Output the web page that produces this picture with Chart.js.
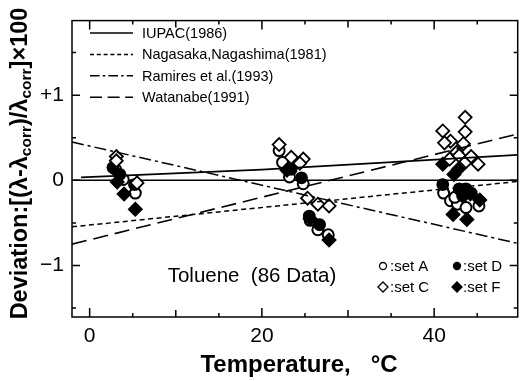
<!DOCTYPE html>
<html>
<head>
<meta charset="utf-8">
<script src="https://cdn.jsdelivr.net/npm/chart.js@4.4.1/dist/chart.umd.min.js"></script>
<style>
    html, body { margin: 0; padding: 0; background: #fff; overflow: hidden; }
    canvas { display: block; }
</style>
</head>
<body>
<canvas id="graficoDesviacion" width="526" height="381"></canvas>
<script>
// Datos (Tolueno, 86 datos)
const setA_T   = [3.0, 3.9, 5.3, 22.0, 22.4, 23.2, 24.8, 25.6, 26.5, 27.7, 41.1, 41.9, 42.7, 43.7, 45.2, 42.4];
const setA_dev = [0.13, 0.01, -0.15, 0.35, 0.21, 0.04, -0.04, -0.47, -0.58, -0.64, -0.15, -0.24, -0.28, -0.32, -0.30, -0.20];

const setC_T   = [3.1, 3.1, 5.5, 22.0, 23.4, 24.8, 24.4, 25.3, 26.5, 27.8, 41.0, 43.6, 43.6, 41.9, 41.2, 43.4, 42.6, 41.8, 42.9, 43.7, 45.1, 44.3];
const setC_dev = [0.28, 0.23, -0.03, 0.42, 0.27, 0.25, 0.20, -0.21, -0.28, -0.30, 0.58, 0.74, 0.57, 0.46, 0.44, 0.43, 0.33, 0.25, 0.29, 0.22, 0.19, 0.28];

const setD_T   = [2.7, 3.5, 5.2, 23.4, 24.6, 25.5, 26.7, 41.0, 42.9, 43.7, 43.3, 44.3];
const setD_dev = [0.15, 0.07, -0.05, 0.13, 0.03, -0.42, -0.52, -0.05, -0.10, -0.10, -0.18, -0.15];

const setF_T   = [3.2, 4.0, 5.3, 22.9, 25.6, 27.8, 41.0, 42.3, 42.8, 42.2, 43.8, 45.3, 44.2, 43.4];
const setF_dev = [-0.02, -0.16, -0.34, 0.12, -0.45, -0.70, 0.19, 0.07, 0.13, -0.40, -0.46, -0.23, -0.16, -0.12];

// Correlaciones (extremos de cada recta)
const iupacT = [-1.0, 20, 49.7];
const iupacDev = [0.035, 0.125, 0.30];
const bordeT = [-2.05, 49.7];
const nagasakaDev = [-0.546, -0.013];
const ramiresDev = [0.45, -0.74];
const watanabeDev = [-0.75, 0.545];

const xTicks = [0, 20, 40];
const yTicks = [-1, 0, 1];
const yTickLabels = ['\u22121', '0', '+1'];

const fuente = '"Liberation Sans", Arial, sans-serif';

function pares(xs, ys) {
    return xs.map((x, i) => ({ x: x, y: ys[i] }));
}

const lineasModelo = [
    { label: 'IUPAC(1986)', data: pares(iupacT, iupacDev), dash: [], ancho: 1.8 },
    { label: 'Nagasaka,Nagashima(1981)', data: pares(bordeT, nagasakaDev), dash: [5, 3.5], ancho: 1.5 },
    { label: 'Ramires et al.(1993)', data: pares(bordeT, ramiresDev), dash: [12, 4, 3, 4], ancho: 1.5 },
    { label: 'Watanabe(1991)', data: pares(bordeT, watanabeDev), dash: [15, 7], ancho: 1.6 }
];

const datasets = lineasModelo.map(l => ({
    label: l.label,
    data: l.data,
    showLine: true,
    borderColor: '#000',
    borderWidth: l.ancho,
    borderDash: l.dash,
    pointRadius: 0,
    fill: false
}));

datasets.push(
    { label: 'set C', data: pares(setC_T, setC_dev), pointStyle: 'rectRot', pointRadius: 6.5,
      backgroundColor: '#fff', borderColor: '#000', borderWidth: 1.8 },
    { label: 'set F', data: pares(setF_T, setF_dev), pointStyle: 'rectRot', pointRadius: 6.5,
      backgroundColor: '#000', borderColor: '#000', borderWidth: 1.8 },
    { label: 'set D', data: pares(setD_T, setD_dev), pointStyle: 'circle', pointRadius: 5.5,
      backgroundColor: '#000', borderColor: '#000', borderWidth: 1.8 },
    { label: 'set A', data: pares(setA_T, setA_dev), pointStyle: 'circle', pointRadius: 5.5,
      backgroundColor: '#fff', borderColor: '#000', borderWidth: 2 }
);

function marcador(ctx, tipo, x, y, r, relleno) {
    ctx.beginPath();
    if (tipo === 'circle') {
        ctx.arc(x, y, r, 0, Math.PI * 2);
    } else {
        ctx.moveTo(x - r, y);
        ctx.lineTo(x, y - r);
        ctx.lineTo(x + r, y);
        ctx.lineTo(x, y + r);
        ctx.closePath();
    }
    ctx.fillStyle = relleno ? '#000' : '#fff';
    ctx.fill();
    ctx.lineWidth = 1.3;
    ctx.strokeStyle = '#000';
    ctx.stroke();
}

const marcoPlugin = {
    id: 'marco',
    beforeDatasetsDraw(chart) {
        // línea de desviación cero
        const { ctx, chartArea, scales } = chart;
        const y0 = scales.y.getPixelForValue(0);
        ctx.save();
        ctx.strokeStyle = '#000';
        ctx.lineWidth = 1.5;
        ctx.beginPath();
        ctx.moveTo(chartArea.left, y0);
        ctx.lineTo(chartArea.right, y0);
        ctx.stroke();
        ctx.restore();
    },
    afterDraw(chart) {
        const { ctx, chartArea, scales } = chart;
        const { left, right, top, bottom } = chartArea;
        ctx.save();
        ctx.strokeStyle = '#000';
        ctx.fillStyle = '#000';
        ctx.lineWidth = 1.5;
        ctx.strokeRect(left, top, right - left, bottom - top);

        // marcas hacia adentro
        ctx.beginPath();
        for (let v = 0; v <= 45; v += 5) {
            const px = scales.x.getPixelForValue(v);
            const largo = v % 20 === 0 ? 9 : (v % 10 === 0 ? 7 : 4);
            ctx.moveTo(px, bottom); ctx.lineTo(px, bottom - largo);
            ctx.moveTo(px, top); ctx.lineTo(px, top + largo);
        }
        for (let v = -1.5; v <= 1.5; v += 0.5) {
            const py = scales.y.getPixelForValue(v);
            const largo = Number.isInteger(v) ? 8 : 4;
            ctx.moveTo(left, py); ctx.lineTo(left + largo, py);
            ctx.moveTo(right, py); ctx.lineTo(right - largo, py);
        }
        ctx.stroke();

        // leyenda de correlaciones
        ctx.font = '14.5px ' + fuente;
        ctx.textBaseline = 'middle';
        ctx.textAlign = 'left';
        lineasModelo.forEach((l, i) => {
            const y = 33 + i * 21.4;
            ctx.beginPath();
            ctx.setLineDash(l.dash.length ? l.dash.map(d => d * 0.8) : []);
            ctx.lineWidth = 1.5;
            ctx.moveTo(90, y);
            ctx.lineTo(133, y);
            ctx.stroke();
            ctx.setLineDash([]);
            ctx.fillText(l.label, 142, y + 1);
        });

        // leyenda de conjuntos
        ctx.font = '15px ' + fuente;
        marcador(ctx, 'circle', 383, 266, 3.5, false);
        ctx.fillStyle = '#000';
        ctx.fillText(':set A', 390, 267);
        marcador(ctx, 'circle', 457, 266, 3.5, true);
        ctx.fillStyle = '#000';
        ctx.fillText(':set D', 463, 267);
        marcador(ctx, 'rect', 383, 287, 5, false);
        ctx.fillStyle = '#000';
        ctx.fillText(':set C', 390, 288);
        marcador(ctx, 'rect', 457, 287, 5, true);
        ctx.fillStyle = '#000';
        ctx.fillText(':set F', 463, 288);

        // rótulo del fluido
        ctx.font = '20.5px ' + fuente;
        ctx.textAlign = 'center';
        ctx.fillText('Toluene  (86 Data)', 252, 276);

        // título eje X
        ctx.font = 'bold 24px ' + fuente;
        ctx.textBaseline = 'alphabetic';
        ctx.fillText('Temperature,   \u00B0C', 299, 372);

        // título eje Y con subíndices
        const partes = [
            ['Deviation:[(\u03BB-\u03BB', false],
            ['corr', true],
            [')/\u03BB', false],
            ['corr', true],
            [']\u00D7100', false]
        ];
        const fNormal = 'bold 23.5px ' + fuente;
        const fSub = 'bold 15.5px ' + fuente;
        let total = 0;
        partes.forEach(p => {
            ctx.font = p[1] ? fSub : fNormal;
            total += ctx.measureText(p[0]).width;
        });
        ctx.translate(27, 163.5);
        ctx.rotate(-Math.PI / 2);
        ctx.textAlign = 'left';
        let x = -total / 2;
        partes.forEach(p => {
            ctx.font = p[1] ? fSub : fNormal;
            ctx.fillText(p[0], x, p[1] ? 4 : 0);
            x += ctx.measureText(p[0]).width;
        });
        ctx.restore();
    }
};

new Chart(document.getElementById('graficoDesviacion'), {
    type: 'scatter',
    data: { datasets: datasets },
    options: {
        responsive: false,
        animation: false,
        layout: { padding: { top: 9, right: 1, left: 0, bottom: 0 } },
        plugins: {
            legend: { display: false },
            tooltip: { enabled: false }
        },
        scales: {
            x: {
                type: 'linear',
                min: -2.05,
                max: 49.7,
                afterBuildTicks: s => { s.ticks = xTicks.map(v => ({ value: v })); },
                afterFit: s => { s.height = 64; },
                ticks: { color: '#000', padding: 7, font: { family: fuente, size: 21 } },
                grid: { display: false, drawTicks: false },
                border: { display: false }
            },
            y: {
                type: 'linear',
                min: -1.605,
                max: 1.876,
                afterBuildTicks: s => { s.ticks = yTicks.map(v => ({ value: v })); },
                afterFit: s => { s.width = 72; },
                ticks: {
                    color: '#000', padding: 8, font: { family: fuente, size: 21 },
                    callback: (v) => yTickLabels[yTicks.indexOf(v)]
                },
                grid: { display: false, drawTicks: false },
                border: { display: false }
            }
        }
    },
    plugins: [marcoPlugin]
});
</script>
</body>
</html>
